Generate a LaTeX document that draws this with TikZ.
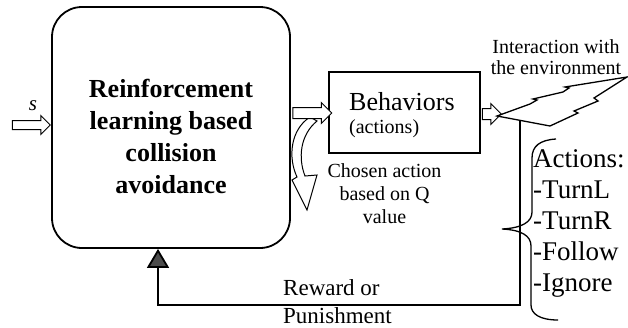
\documentclass[tikz,border=0pt]{standalone}
\usepackage{fontspec}
\setmainfont{Liberation Serif}
\usetikzlibrary{shapes.arrows,arrows.meta,calc}
\begin{document}
\begin{tikzpicture}[x=1pt,y=-1pt,
  hollow/.style={single arrow, draw, fill=white, line width=1pt, inner xsep=0pt,
    text height=0pt, text depth=0pt, inner ysep=5pt,
    single arrow head extend=5pt, single arrow tip angle=90},
  lbl/.style={inner sep=0pt, anchor=base},
  lblw/.style={inner sep=0pt, anchor=base west, align=left},
]
\useasboundingbox (0,0) rectangle (628,327);
% main box
\node[draw, line width=1.8pt, rounded corners=30pt, minimum width=238pt,
  minimum height=241pt, inner sep=0pt] (rl) at (171,127.5) {};
\node[lbl, align=center, font=\fontsize{26}{32}\selectfont\bfseries] (rltext)
  at (171,193) {Reinforcement\\learning based\\collision\\avoidance};
% behaviors box
\node[draw, line width=1.2pt, minimum width=151pt, minimum height=81pt,
  inner sep=0pt] (beh) at (404.5,112.5) {};
\node[lblw, font=\fontsize{26}{30}\selectfont] (behtext) at (349,110) {Behaviors};
\node[lblw, font=\fontsize{20}{24}\selectfont] (acttext) at (349,133) {(actions)};
% input arrow
\node[hollow, inner ysep=4pt, minimum height=38pt] (sin) at (29,125) {};
\node[lbl, font=\fontsize{21}{24}\selectfont\itshape] (slbl) at (33,110) {s};
% curved arrow
\draw[line width=1pt, fill=white] (310,117) .. controls (290,130) and (288,158) .. (297,177)
  -- (292,180) -- (307,210) -- (317,175) -- (305,176)
  .. controls (298,158) and (300,135) .. (317,121) -- cycle;
% arrows between boxes
\node[hollow, minimum height=39pt] (a2) at (309.5,113) {};
\node[hollow, minimum height=19pt] (a3) at (489,114) {};
% lightning bolt
\draw[line width=1.3pt, fill=white, line join=miter] (497,116) -- (530,104) -- (537,100) -- (533,99)
  -- (563,92) -- (569,88) -- (565,87) -- (627,77) -- (594,98) -- (598,101)
  -- (574,111) -- (578,113) -- (550,126) -- cycle;
\node[lbl, align=center, font=\fontsize{20}{21}\selectfont] (inter) at (556,74)
  {Interaction with\\the environment};
\node[lbl, align=center, font=\fontsize{20}{23}\selectfont] (chosen) at (384.5,223)
  {Chosen action\\based on Q\\value};
% feedback
\coordinate (fbtop) at (520,121);
\coordinate (fbcorner) at (158,305);
\draw[line width=1.8pt, -{Triangle[width=22pt,length=19pt,fill=black!70]}]
  (fbtop) |- (fbcorner) -- (fbcorner |- rl.south);
\node[lblw, font=\fontsize{23}{28}\selectfont] (reward) at (283,323) {Reward or\\Punishment};
% brace
\coordinate (bracetip) at (502,229);
\draw[line width=1.3pt] (556,139) .. controls (540,140) and (532,146) .. (532,158) -- (532,212)
  .. controls (532,222) and (522,228) .. (bracetip)
  .. controls (522,230) and (531,236) .. (531,246) -- (531,305)
  .. controls (531,314) and (540,320) .. (558,320);
\node[lblw, font=\fontsize{27}{31}\selectfont] (actions) at (533,291)
  {Actions:\\-TurnL\\-TurnR\\-Follow\\-Ignore};
\end{tikzpicture}
\end{document}
